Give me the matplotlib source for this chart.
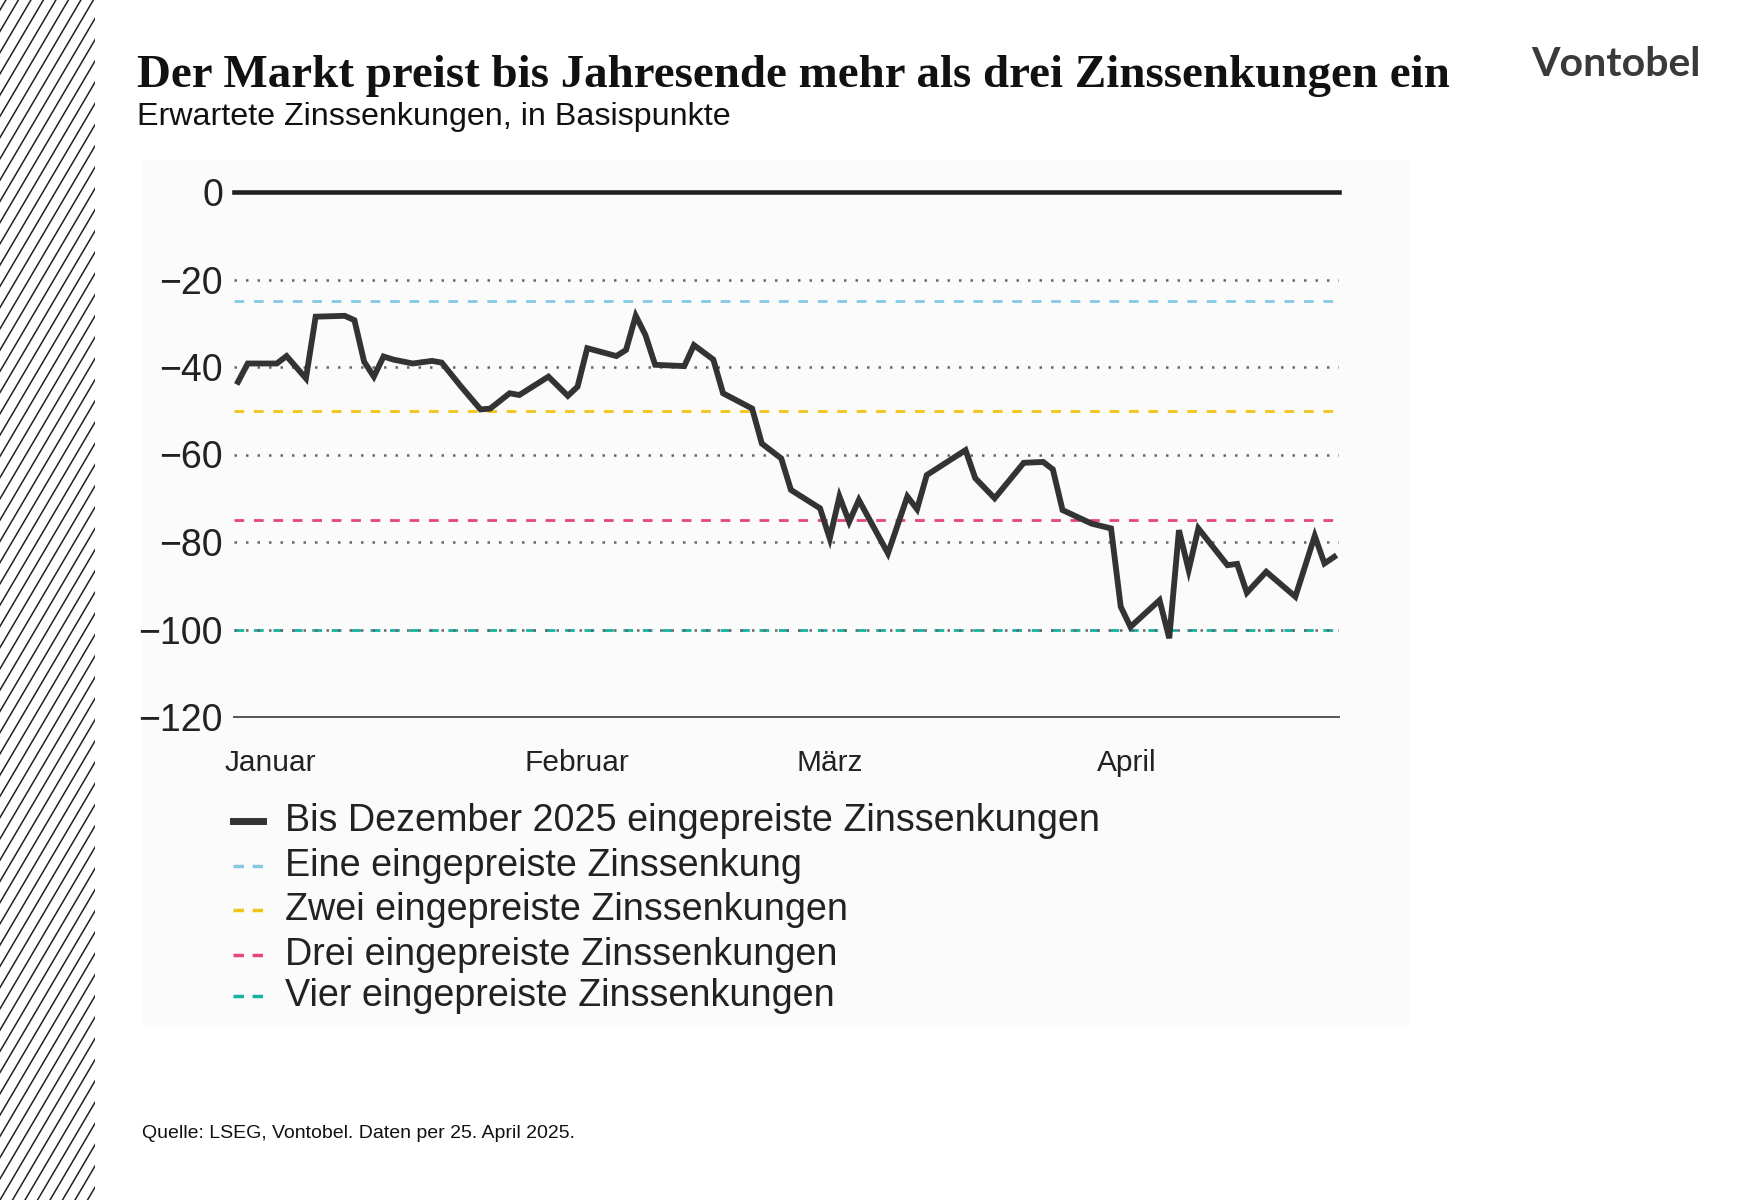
import matplotlib
matplotlib.use("Agg")
import matplotlib.pyplot as plt
from matplotlib.lines import Line2D
import numpy as np
import pandas as pd

# data (basis points priced in until Dec 2025)
dates = ["2025-01-02", "2025-01-03", "2025-01-06", "2025-01-07", "2025-01-09", "2025-01-10",
         "2025-01-13", "2025-01-14", "2025-01-15", "2025-01-16", "2025-01-17", "2025-01-18",
         "2025-01-20", "2025-01-22", "2025-01-23", "2025-01-25", "2025-01-27", "2025-01-28",
         "2025-01-30", "2025-01-31",
         "2025-02-03", "2025-02-05", "2025-02-06", "2025-02-07", "2025-02-10", "2025-02-11",
         "2025-02-12", "2025-02-13", "2025-02-14", "2025-02-17", "2025-02-18", "2025-02-20",
         "2025-02-21", "2025-02-24", "2025-02-25", "2025-02-27", "2025-02-28",
         "2025-03-03", "2025-03-04", "2025-03-05", "2025-03-06", "2025-03-07", "2025-03-10",
         "2025-03-12", "2025-03-13", "2025-03-14", "2025-03-18", "2025-03-19", "2025-03-21",
         "2025-03-24", "2025-03-26", "2025-03-27", "2025-03-28", "2025-03-31",
         "2025-04-02", "2025-04-03", "2025-04-04", "2025-04-07", "2025-04-08", "2025-04-09",
         "2025-04-10", "2025-04-11", "2025-04-14", "2025-04-15", "2025-04-16", "2025-04-18",
         "2025-04-21", "2025-04-23", "2025-04-24", "2025-04-25"]
cuts = [-43.4, -39.2, -39.2, -37.5, -42.6, -28.5, -28.3, -29.3, -38.8, -42.2, -37.6, -38.3,
        -39.2, -38.6, -39.0, -44.5, -49.7, -49.5, -46.0, -46.4,
        -42.2, -46.6, -44.5, -35.7, -37.5, -36.1, -28.3, -32.7, -39.5, -39.8, -35.0, -38.3,
        -46.0, -49.5, -57.5, -60.9, -68.1,
        -72.3, -79.2, -69.6, -75.4, -70.4, -82.6, -69.6, -72.5, -64.7, -59.0, -65.4, -70.0,
        -61.9, -61.7, -63.4, -72.7, -75.8,
        -76.9, -94.8, -99.4, -93.3, -102.0, -77.3, -86.4, -76.9, -85.3, -85.0, -91.6, -86.8,
        -92.5, -78.6, -84.9, -83.4]

ref_levels = [-25, -50, -75, -100]
ref_colors = ["#86c8e2", "#f0c419", "#e5457d", "#16b2a0"]
ref_labels = ["Eine eingepreiste Zinssenkung", "Zwei eingepreiste Zinssenkungen",
              "Drei eingepreiste Zinssenkungen", "Vier eingepreiste Zinssenkungen"]
line_label = "Bis Dezember 2025 eingepreiste Zinssenkungen"

month_starts = ["2025-01-01", "2025-02-01", "2025-03-01", "2025-04-01"]
month_labels = ["Januar", "Februar", "März", "April"]
yticks = [0, -20, -40, -60, -80, -100, -120]

W, H = 1750, 1200
sans = "Liberation Sans"

fig = plt.figure(figsize=(W / 100, H / 100), dpi=100)
fig.patch.set_facecolor("white")

# faint chart panel
pax = fig.add_axes([143 / W, 1 - 1025 / H, (1410 - 143) / W, (1025 - 160) / H], zorder=-5)
pax.set_facecolor("#fbfbfb")
pax.set_xticks([])
pax.set_yticks([])
for s in pax.spines.values():
    s.set_visible(False)

# hatched strip on the left
hax = fig.add_axes([0, 0, 95 / W, 1])
hax.set_xlim(0, 95)
hax.set_ylim(0, H)
hax.axis("off")
for x0 in np.arange(-800, 100, 12.5):
    hax.plot([x0, x0 + H / 1.7], [0, H], color="#222222", lw=1.1)

x = pd.to_datetime(dates)
ax = fig.add_axes([234 / W, 1 - 717 / H, (1339 - 234) / W, (717 - 192) / H])
ax.set_facecolor("none")

# dotted grid
for yv in [-20, -40, -60, -80, -100]:
    ax.axhline(yv, color="#666666", lw=1.8, linestyle=(0, (1, 3.6)), zorder=2)

# reference levels
for lev, col in zip(ref_levels, ref_colors):
    ax.axhline(lev, color=col, lw=2, linestyle=(0, (3.5, 3.5)), zorder=1 if lev == -100 else 3)

ax.axhline(0, color="#222222", lw=3.3, clip_on=False, zorder=4)
ax.axhline(-120, color="#555555", lw=1.4, clip_on=False, zorder=4)

ax.plot(x, cuts, color="#333333", lw=4.2, solid_joinstyle="miter", zorder=5)

x0 = pd.Timestamp("2025-01-02") - pd.Timedelta(hours=10)
x1 = pd.Timestamp("2025-04-25") + pd.Timedelta(hours=12)
ax.set_xlim(x0, x1)
ax.set_ylim(-120, 0)

for s in ax.spines.values():
    s.set_visible(False)
ax.set_xticks([])
ax.set_yticks(yticks)
ax.set_yticklabels(["0" if v == 0 else "\u2212" + str(-v) for v in yticks],
                   fontsize=27, family=sans, color="#222222")
ax.tick_params(axis="y", length=0, pad=8)

for ms, ml in zip(month_starts, month_labels):
    ax.annotate(ml, (pd.Timestamp(ms), -120), xytext=(-3, -23), textcoords="offset points",
                ha="left", va="top", fontsize=21.5, family=sans, color="#222222",
                annotation_clip=False)

# legend, drawn by hand
rows_y = [821, 866, 910, 955, 996]
handles = [dict(color="#333333", lw=5, ls="-")] + \
          [dict(color=c, lw=2.5, ls=(0, (3, 2.5))) for c in ref_colors]
for yy, hd, lab in zip(rows_y, handles, [line_label] + ref_labels):
    fy = 1 - yy / H
    fig.add_artist(Line2D([233 / W, 263 / W], [fy, fy], transform=fig.transFigure,
                          color=hd["color"], lw=hd["lw"], linestyle=hd["ls"]))
    fig.text(285 / W, fy, lab, ha="left", va="center", fontsize=27.2, family=sans, color="#222222")

# title block
fig.text(137 / W, 1 - 76 / H, "Der Markt preist bis Jahresende mehr als drei Zinssenkungen ein",
         ha="left", va="center", fontsize=33.8, family="Liberation Serif", weight="bold", color="#111111")
fig.text(137 / W, 1 - 117 / H, "Erwartete Zinssenkungen, in Basispunkte",
         ha="left", va="center", fontsize=23.2, family=sans, color="#111111")
fig.text(1701 / W, 1 - 64 / H, "Vontobel", ha="right", va="center", fontsize=29.5,
         family="Lato", weight="bold", color="#3a3a3a")
fig.text(142 / W, 1 - 1134 / H, "Quelle: LSEG, Vontobel. Daten per 25. April 2025.",
         ha="left", va="center", fontsize=14, family=sans, color="#111111")

fig.savefig("out.png", dpi=100, facecolor="white")
